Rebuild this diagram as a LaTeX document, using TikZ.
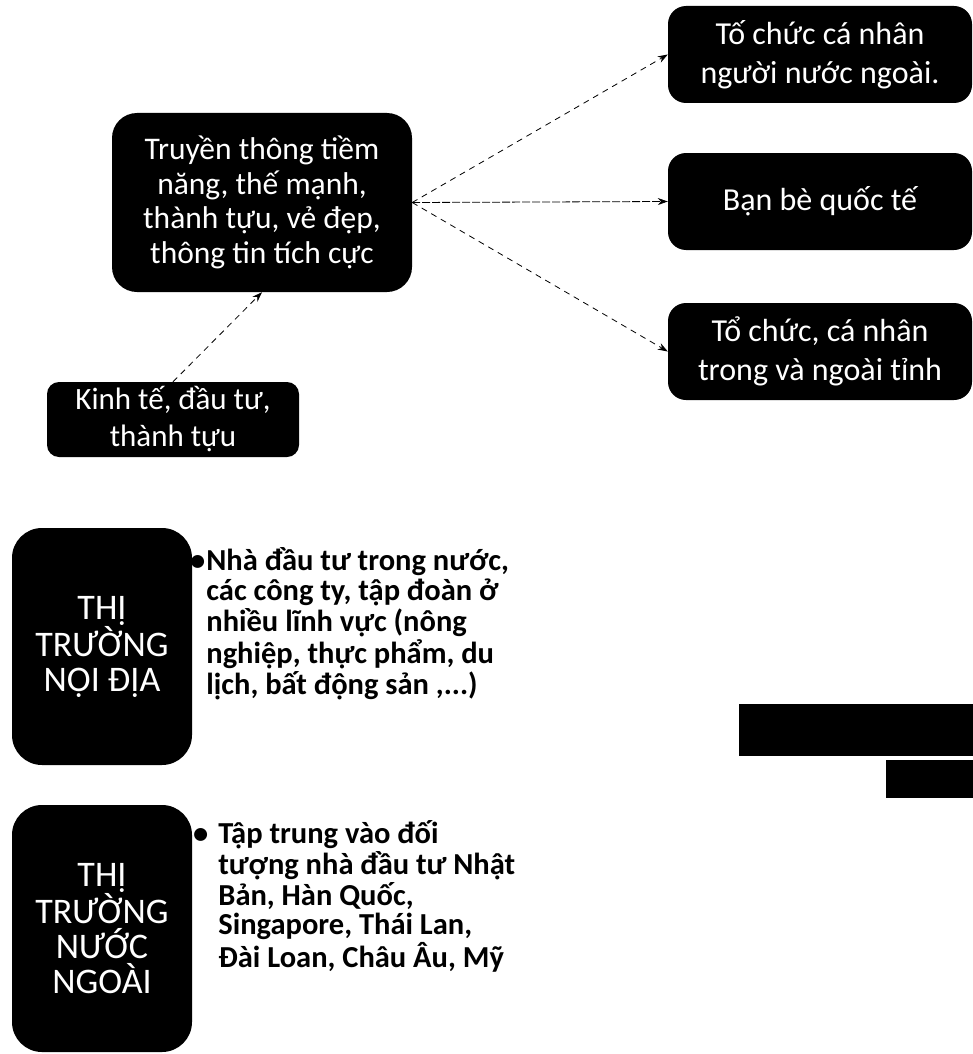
\documentclass[tikz,border=0pt]{standalone}
\usepackage{fontspec}
\setmainfont{Carlito}
\usetikzlibrary{arrows.meta}
\begin{document}
\begin{tikzpicture}[x=1pt,y=-1pt,
  box/.style={fill=black, text=white, align=center, inner sep=0pt},
  arr/.style={draw=black, line width=0.8pt, dash pattern=on 6pt off 5pt, -{Stealth[length=10pt,width=7pt]}},
  bul/.style={anchor=west, inner sep=0pt, align=left, font=\fontsize{30.5}{27}\bfseries\selectfont}]
\useasboundingbox (0,0) rectangle (973,1054);
% top diagram
\node[box, rounded corners=25pt, minimum width=300pt, minimum height=179pt,
  font=\fontsize{31.5}{34.5}\selectfont] (main) at (262,202.5)
  {Truyền thông tiềm\\năng, thế mạnh,\\thành tựu, vẻ đẹp,\\thông tin tích cực};
\node[box, rounded corners=18pt, minimum width=304pt, minimum height=97pt,
  font=\fontsize{32}{39}\selectfont] (o1) at (820,54.5)
  {Tố chức cá nhân\\người nước ngoài.};
\node[box, rounded corners=18pt, minimum width=304pt, minimum height=97pt,
  font=\fontsize{32}{39}\selectfont] (o2) at (820,201.5)
  {Bạn bè quốc tế};
\node[box, rounded corners=18pt, minimum width=304pt, minimum height=97pt,
  font=\fontsize{32}{39}\selectfont] (o3) at (820,351.5)
  {Tổ chức, cá nhân\\trong và ngoài tỉnh};
\node[box, rounded corners=12pt, minimum width=252pt, minimum height=75pt,
  font=\fontsize{31}{37}\selectfont] (kt) at (173,419.5)
  {Kinh tế, đầu tư,\\thành tựu};
\draw[arr] (main.east) -- (o1.west);
\draw[arr, dash pattern=on 8pt off 2pt] (main.east) -- (o2.west);
\draw[arr] (main.east) -- (o3.west);
\draw[arr] (kt.north) -- (main.south);
% markets
\node[box, rounded corners=30pt, minimum width=180pt, minimum height=237pt,
  font=\fontsize{36}{35}\selectfont] (l1) at (102,646.5)
  {THỊ\\TRƯỜNG\\NỘI ĐỊA};
\node[box, rounded corners=30pt, minimum width=180pt, minimum height=247pt,
  font=\fontsize{36}{35}\selectfont] (l2) at (102,928.5)
  {THỊ\\TRƯỜNG\\NƯỚC\\NGOÀI};
\node[bul] (b1) at (190,625)
  {\begin{tabular}{@{}l@{\hspace{1pt}}l@{}}•&Nhà đầu tư trong nước,\\
   &các công ty, tập đoàn ở\\
   &nhiều lĩnh vực (nông\\
   &nghiệp, thực phẩm, du\\
   &lịch, bất động sản ,...)\end{tabular}};
\node[bul] (b2) at (193,898)
  {\begin{tabular}{@{}l@{\hspace{10pt}}l@{}}•&Tập trung vào đối\\
   &tượng nhà đầu tư Nhật\\
   &Bản, Hàn Quốc,\\
   &Singapore, Thái Lan,\\
   &Đài Loan, Châu Âu, Mỹ\end{tabular}};
% black bars at right
\fill[black] (739,704) rectangle (973,756);
\fill[black] (886,760) rectangle (973,798);
\end{tikzpicture}
\end{document}
